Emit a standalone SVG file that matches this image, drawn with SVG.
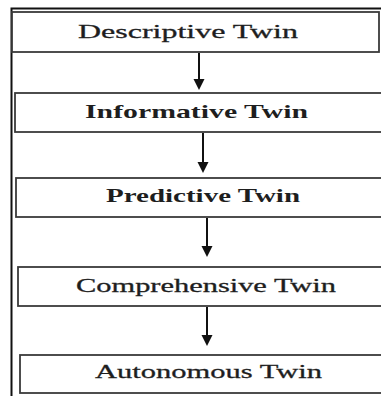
<svg xmlns="http://www.w3.org/2000/svg" width="381" height="396" viewBox="0 0 381 396">
  <style>
    .box { fill: #ffffff; stroke: #3a3a3a; stroke-width: 1.8; }
    .label { font-family: "Liberation Serif", "Times New Roman", serif; font-size: 19.5px; fill: #1e1e1e; stroke: #1e1e1e; stroke-width: 0.3; }
    .bold { font-weight: bold; stroke-width: 0; }
    .link { stroke: #111111; stroke-width: 2; fill: none; marker-end: url(#head); }
  </style>
  <defs>
    <marker id="head" markerUnits="userSpaceOnUse" markerWidth="12" markerHeight="12" viewBox="0 0 12 12" refX="6" refY="6" orient="auto">
      <path d="M0,0.5 L11,6 L0,11.5 Z" fill="#111111"/>
    </marker>
  </defs>
  <rect width="381" height="396" fill="#ffffff"/>

  <!-- outer frame (cut off at the right and bottom) -->
  <path d="M11.5,400 V8.5 H390" fill="none" stroke="#111111" stroke-width="2"/>

  <g id="descriptive">
    <rect class="box" x="12" y="12" width="367" height="40"/>
    <text class="label" x="78" y="38" textLength="220" lengthAdjust="spacingAndGlyphs">Descriptive Twin</text>
  </g>
  <g id="informative">
    <rect class="box" x="15" y="93" width="372" height="39"/>
    <text class="label bold" x="85" y="118" textLength="223" lengthAdjust="spacingAndGlyphs">Informative Twin</text>
  </g>
  <g id="predictive">
    <rect class="box" x="16" y="178" width="371" height="39"/>
    <text class="label bold" x="106" y="202" textLength="194" lengthAdjust="spacingAndGlyphs">Predictive Twin</text>
  </g>
  <g id="comprehensive">
    <rect class="box" x="18" y="267" width="369" height="39"/>
    <text class="label" x="76" y="292" textLength="260" lengthAdjust="spacingAndGlyphs">Comprehensive Twin</text>
  </g>
  <g id="autonomous">
    <rect class="box" x="20" y="355" width="367" height="38"/>
    <text class="label" x="95" y="378" textLength="227" lengthAdjust="spacingAndGlyphs">Autonomous Twin</text>
  </g>

  <g id="connectors">
    <line class="link" x1="199" y1="53" x2="199" y2="85"/>
    <line class="link" x1="203" y1="133" x2="203" y2="168"/>
    <line class="link" x1="207" y1="218" x2="207" y2="252"/>
    <line class="link" x1="207" y1="307" x2="207" y2="341"/>
  </g>
</svg>
